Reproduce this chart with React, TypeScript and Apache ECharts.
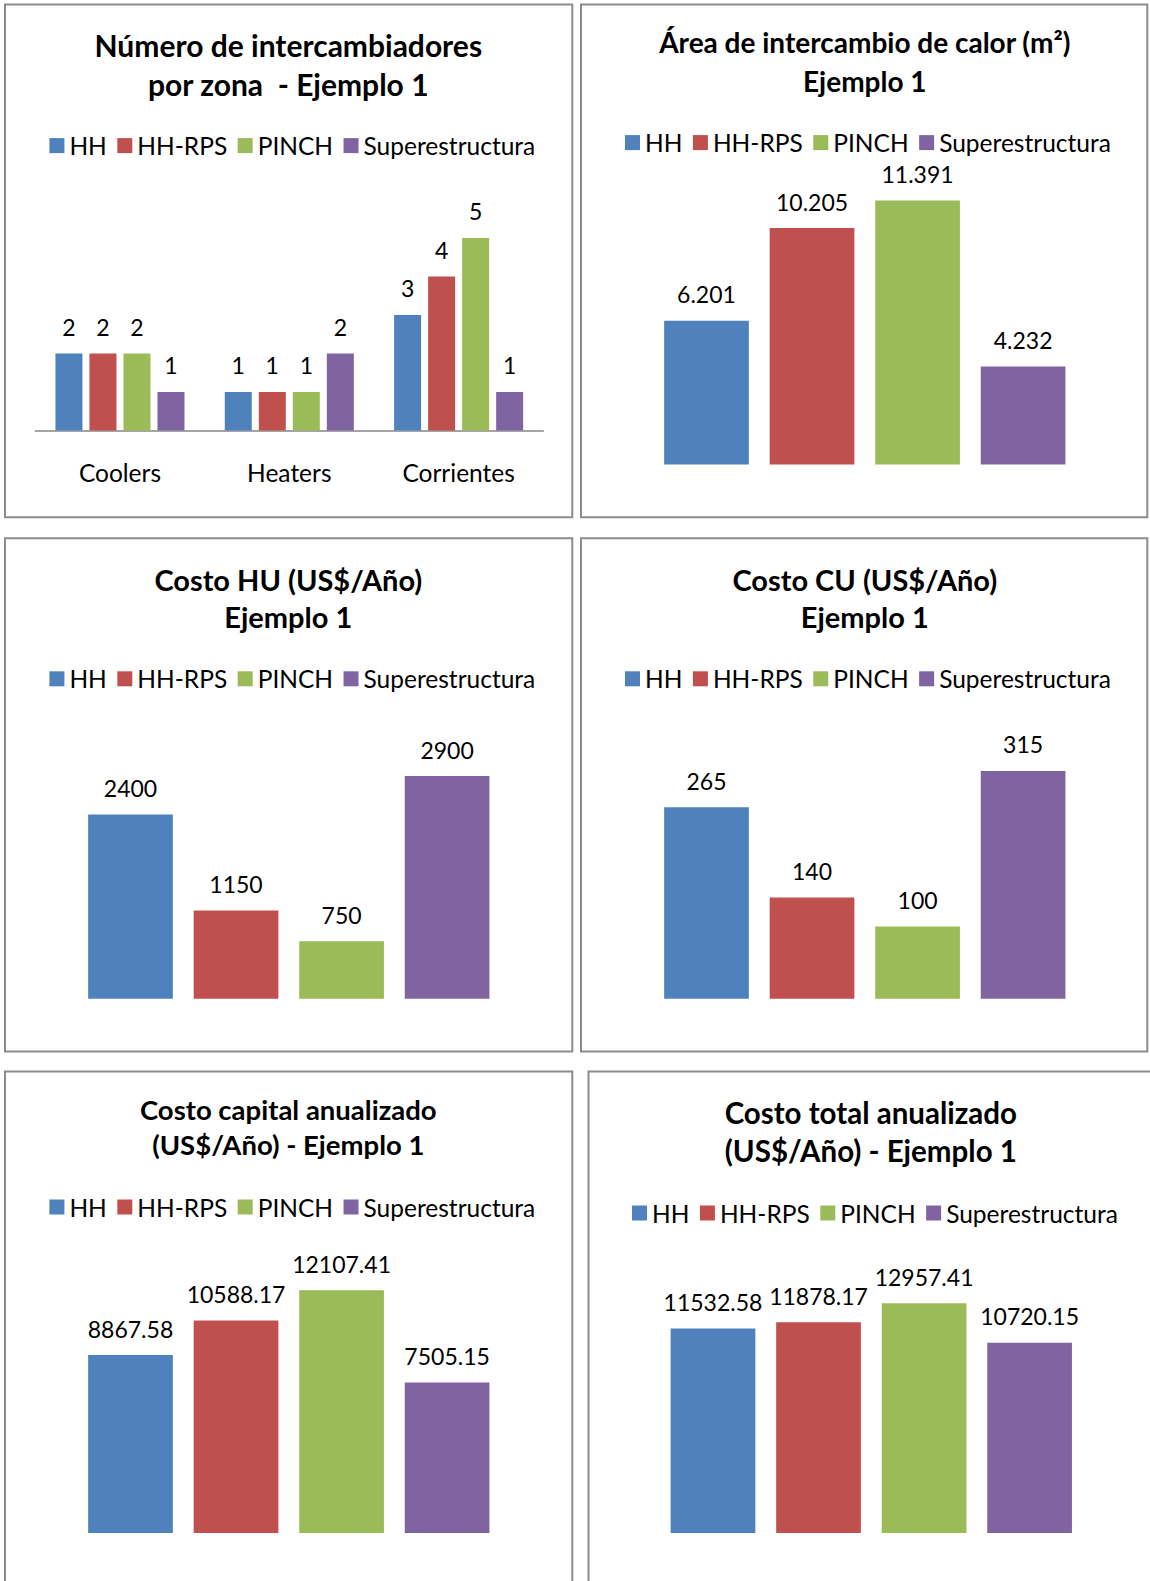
import React, { useEffect, useRef } from 'react';
import * as echarts from 'echarts';

// Methods compared in every panel
const seriesNames = ['HH', 'HH-RPS', 'PINCH', 'Superestructura'];
const seriesColors = ['#4F81BD', '#C0504D', '#9BBB59', '#8064A2'];

// Panel 1: exchangers per zone
const zoneCategories = ['Coolers', 'Heaters', 'Corrientes'];
const zoneHH = [2, 1, 3];
const zoneHHRPS = [2, 1, 4];
const zonePINCH = [2, 1, 5];
const zoneSuper = [1, 2, 1];

// Panels 2-6: one value per method
const areaValues = [6.201, 10.205, 11.391, 4.232];
const huCostValues = [2400, 1150, 750, 2900];
const cuCostValues = [265, 140, 100, 315];
const capitalCostValues = [8867.58, 10588.17, 12107.41, 7505.15];
const totalCostValues = [11532.58, 11878.17, 12957.41, 10720.15];

const panelTitles = [
  'Número de intercambiadores\npor zona  - Ejemplo 1',
  'Área de intercambio de calor (m²)\nEjemplo 1',
  'Costo HU (US$/Año)\nEjemplo 1',
  'Costo CU (US$/Año)\nEjemplo 1',
  'Costo capital anualizado\n(US$/Año) - Ejemplo 1',
  'Costo total anualizado\n(US$/Año) - Ejemplo 1',
];
const axisMax = [6, 12, 3500, 350, 14000, 16000];

const FONT = 'Lato, "Noto Sans", sans-serif';

// Panel frames and placement
const layout = [
  { box: [5, 4.4, 567.3, 512.9], titleX: 288.3, titleTop: 26.2, titleLH: 38.3, titleSize: 30, legendLeft: 49.4, legendCY: 145.1, base: 430.4, unit: 38.5, cx: 0 },
  { box: [581, 4.4, 566.3, 512.9], titleX: 864.8, titleTop: 23.1, titleLH: 38.3, titleSize: 28, legendLeft: 625, legendCY: 142.1, base: 464.6, unit: 23.18, cx: 864.8 },
  { box: [5, 538.3, 567.3, 513.2], titleX: 288.3, titleTop: 560.8, titleLH: 37.3, titleSize: 29, legendLeft: 49.4, legendCY: 678.3, base: 998.8, unit: 0.0768, cx: 288.8 },
  { box: [581, 538.3, 566.3, 513.2], titleX: 864.8, titleTop: 560.8, titleLH: 37.3, titleSize: 29, legendLeft: 625, legendCY: 678.3, base: 998.8, unit: 0.7232, cx: 864.8 },
  { box: [5, 1071.6, 567.3, 540], titleX: 288.3, titleTop: 1092, titleLH: 35.3, titleSize: 27.5, legendLeft: 49.4, legendCY: 1206.5, base: 1533, unit: 0.02006, cx: 288.8 },
  { box: [588.5, 1071.6, 600, 540], titleX: 870.8, titleTop: 1093.5, titleLH: 38.3, titleSize: 29.5, legendLeft: 632, legendCY: 1212.5, base: 1533, unit: 0.01774, cx: 871.3 },
];

const singleValues = [areaValues, huCostValues, cuCostValues, capitalCostValues, totalCostValues];

function buildOption() {
  const grids: any[] = [];
  const xAxes: any[] = [];
  const yAxes: any[] = [];
  const series: any[] = [];
  const legends: any[] = [];
  const graphics: any[] = [];

  const labelStyle = {
    show: true,
    position: 'top',
    distance: 15,
    color: '#000',
    fontFamily: FONT,
    fontSize: 23,
    lineHeight: 23,
  };

  layout.forEach((p, k) => {
    const h = axisMax[k] * p.unit;
    if (k === 0) {
      grids.push({ left: 35.3, width: 508, top: p.base - h, height: h });
      xAxes.push({
        type: 'category',
        gridIndex: 0,
        data: zoneCategories,
        axisLine: { show: true, lineStyle: { color: '#868686', width: 1.5 } },
        axisTick: { show: false },
        axisLabel: { color: '#000', fontFamily: FONT, fontSize: 24.5, lineHeight: 24, margin: 30 },
      });
    } else {
      grids.push({ left: p.cx - 250, width: 500, top: p.base - h, height: h });
      xAxes.push({
        type: 'category',
        gridIndex: k,
        data: [''],
        axisLine: { show: false },
        axisTick: { show: false },
        axisLabel: { show: false },
      });
    }
    yAxes.push({
      type: 'value',
      gridIndex: k,
      min: 0,
      max: axisMax[k],
      show: false,
      splitLine: { show: false },
    });

    legends.push({
      left: p.legendLeft,
      top: p.legendCY - 12,
      data: seriesNames,
      icon: 'rect',
      itemWidth: 15,
      itemHeight: 15,
      itemGap: 10.5,
      padding: 0,
      selectedMode: false,
      textStyle: { color: '#000', fontFamily: FONT, fontSize: 24.5, lineHeight: 24 },
    });

    const [bx, by, bw, bh] = p.box;
    graphics.push({
      type: 'rect',
      shape: { x: bx, y: by, width: bw, height: bh },
      style: { fill: 'none', stroke: '#8c8c8c', lineWidth: 2 },
      silent: true,
      z: -1,
    });
    graphics.push({
      type: 'text',
      x: p.titleX,
      y: p.titleTop,
      silent: true,
      style: {
        text: panelTitles[k],
        align: 'center',
        verticalAlign: 'top',
        fill: '#000',
        fontFamily: FONT,
        fontWeight: 'bold',
        fontSize: p.titleSize,
        lineHeight: p.titleLH,
      },
    });
  });

  // Panel 1 bars
  [zoneHH, zoneHHRPS, zonePINCH, zoneSuper].forEach((vals, i) => {
    series.push({
      type: 'bar',
      name: seriesNames[i],
      xAxisIndex: 0,
      yAxisIndex: 0,
      data: vals,
      barWidth: 27,
      barGap: '26%',
      itemStyle: { color: seriesColors[i] },
      label: labelStyle,
    });
  });

  // Panels 2-6 bars
  singleValues.forEach((vals, j) => {
    const k = j + 1;
    vals.forEach((v, i) => {
      series.push({
        type: 'bar',
        name: seriesNames[i],
        xAxisIndex: k,
        yAxisIndex: k,
        data: [v],
        barWidth: 84.7,
        barGap: '24.6%',
        itemStyle: { color: seriesColors[i] },
        label: { ...labelStyle, formatter: String(v) },
      });
    });
  });

  return {
    animation: false,
    backgroundColor: '#fff',
    grid: grids,
    xAxis: xAxes,
    yAxis: yAxes,
    legend: legends,
    series,
    graphic: graphics,
  };
}

export default function App() {
  const ref = useRef<HTMLDivElement>(null);

  useEffect(() => {
    if (!ref.current) return;
    const chart = echarts.init(ref.current, null, { renderer: 'svg' });
    chart.setOption(buildOption() as any);
    return () => chart.dispose();
  }, []);

  return (
    <div
      ref={ref}
      style={{ position: 'absolute', left: 0, top: 0, width: 1150, height: 1581, background: '#fff' }}
    />
  );
}
